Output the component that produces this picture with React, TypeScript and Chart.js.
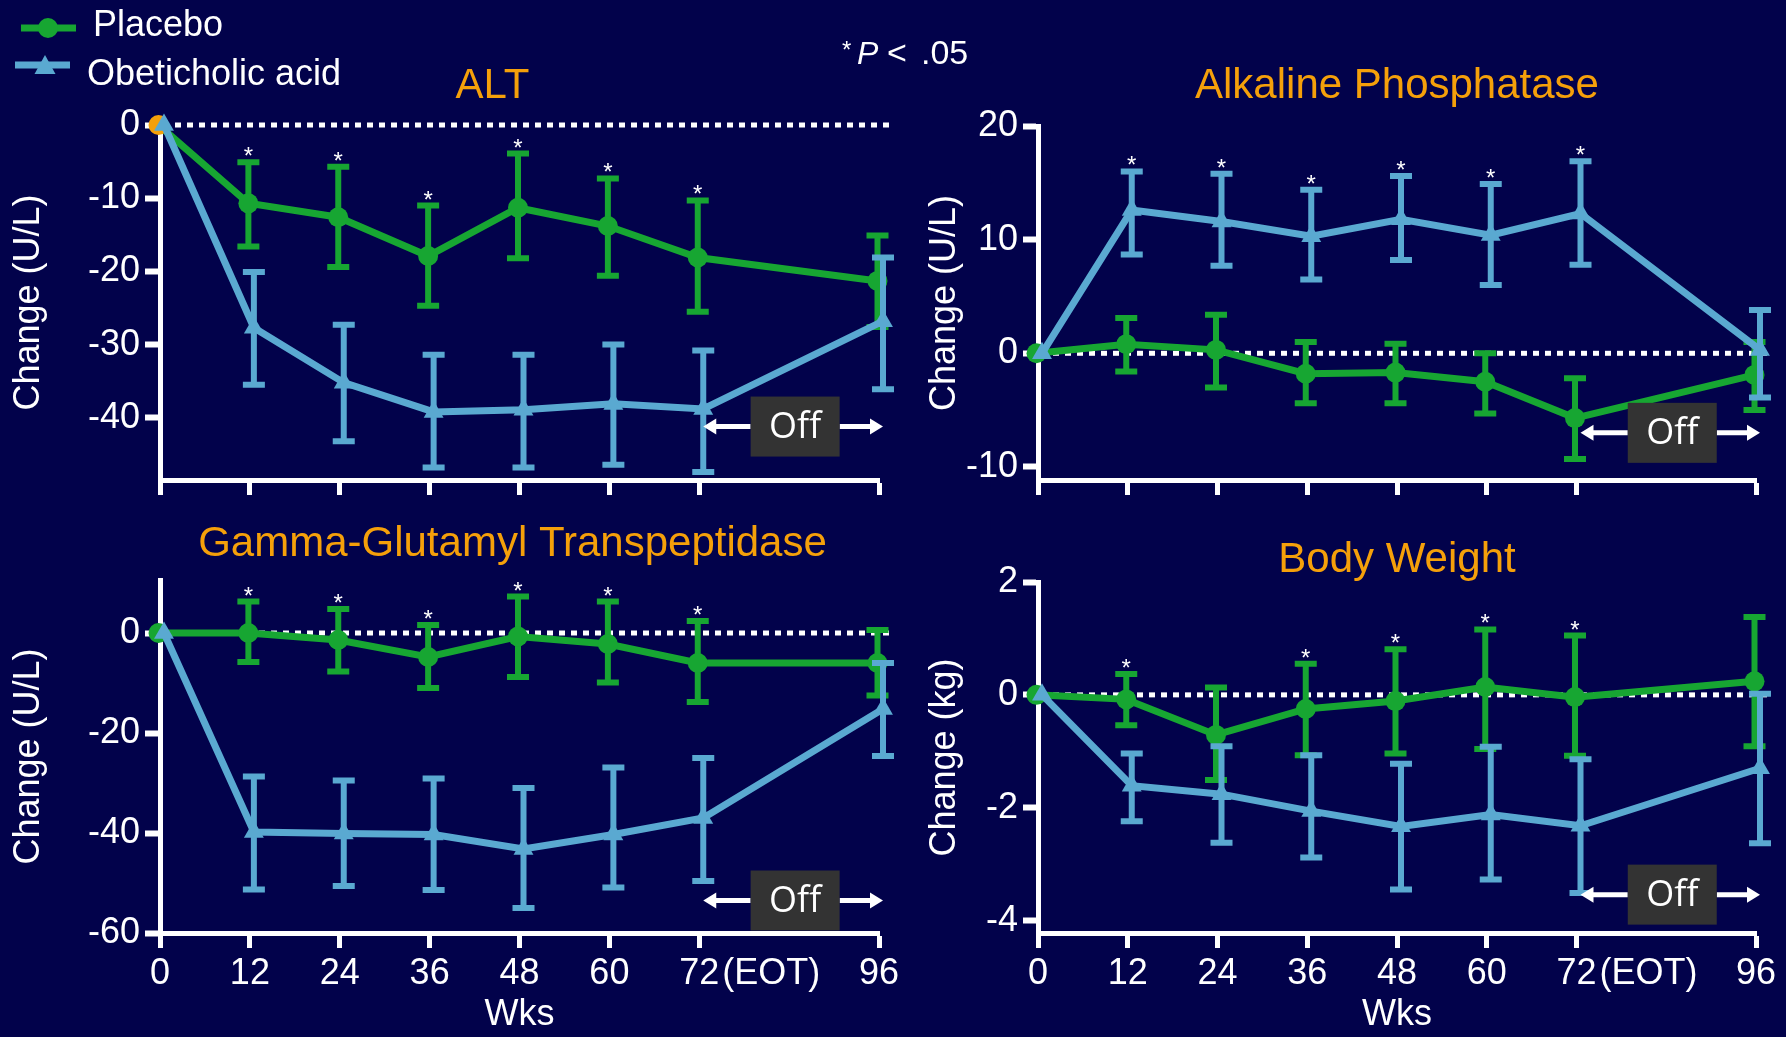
import React, { useEffect, useRef } from 'react';
import { Chart, registerables } from 'chart.js';

Chart.register(...registerables);

// ---------------- DATA ----------------
const weeks = [0, 12, 24, 36, 48, 60, 72, 96];
const xTicks = [0, 12, 24, 36, 48, 60, 72, 96];

// ALT (U/L)
const altPlacebo = [0, -10.7, -12.6, -17.9, -11.3, -13.8, -18.1, -21.3];
const altPlaceboHi = [0, -5.1, -5.7, -11.0, -3.9, -7.3, -10.3, -15.1];
const altPlaceboLo = [0, -16.6, -19.4, -24.7, -18.2, -20.6, -25.5, -27.6];
const altOca = [0, -27.7, -35.2, -39.2, -38.9, -38.1, -38.8, -26.8];
const altOcaHi = [0, -20.1, -27.3, -31.4, -31.4, -30.0, -30.8, -18.1];
const altOcaLo = [0, -35.5, -43.2, -46.8, -46.8, -46.4, -47.4, -36.1];
const altTicks = [0, -10, -20, -30, -40];
const altSig = [12, 24, 36, 48, 60, 72];

// Alkaline phosphatase (U/L)
const alpPlacebo = [0, 0.8, 0.3, -1.8, -1.7, -2.5, -5.7, -1.9];
const alpPlaceboHi = [0, 3.1, 3.4, 1.0, 0.85, 0.0, -2.2, 1.0];
const alpPlaceboLo = [0, -1.6, -3.0, -4.4, -4.4, -5.3, -9.3, -5.0];
const alpOca = [0, 12.6, 11.6, 10.3, 11.8, 10.4, 12.3, 0.3];
const alpOcaHi = [0, 16.0, 15.8, 14.4, 15.6, 14.9, 16.9, 3.8];
const alpOcaLo = [0, 8.7, 7.7, 6.5, 8.2, 6.0, 7.8, -3.9];
const alpTicks = [20, 10, 0, -10];
const alpSig = [12, 24, 36, 48, 60, 72];

// Gamma-glutamyl transpeptidase (U/L)
const ggtPlacebo = [0, 0.0, -1.4, -4.8, -0.7, -2.2, -6.0, -6.0];
const ggtPlaceboHi = [0, 6.3, 4.8, 1.6, 7.3, 6.3, 2.4, 0.6];
const ggtPlaceboLo = [0, -5.8, -7.7, -11.0, -8.8, -9.9, -13.8, -12.5];
const ggtOca = [0, -39.8, -40.1, -40.3, -43.2, -40.3, -37.0, -15.2];
const ggtOcaHi = [0, -28.7, -29.5, -29.1, -31.0, -26.9, -25.0, -6.0];
const ggtOcaLo = [0, -51.3, -50.6, -51.4, -55.0, -50.9, -49.6, -24.6];
const ggtTicks = [0, -20, -40, -60];
const ggtSig = [12, 24, 36, 48, 60, 72];

// Body weight (kg)
const bwPlacebo = [0, -0.08, -0.71, -0.25, -0.11, 0.14, -0.04, 0.24];
const bwPlaceboHi = [0, 0.37, 0.13, 0.55, 0.81, 1.16, 1.05, 1.38];
const bwPlaceboLo = [0, -0.54, -1.51, -1.07, -1.04, -0.96, -1.08, -0.91];
const bwOca = [0, -1.61, -1.76, -2.06, -2.33, -2.12, -2.32, -1.3];
const bwOcaHi = [0, -1.04, -0.91, -1.07, -1.22, -0.92, -1.14, 0.02];
const bwOcaLo = [0, -2.24, -2.62, -2.88, -3.45, -3.27, -3.51, -2.63];
const bwTicks = [2, 0, -2, -4];
const bwSig = [12, 36, 48, 60, 72];

const seriesNames = ['Placebo', 'Obeticholic acid'];

// ---------------- STYLE ----------------
const W = 1786;
const H = 1037;
const BG = '#02024b';
const GREEN = '#17a632';
const BLUE = '#5aa9d1';
const ORANGE = '#f5a00a';
const WHITE = '#ffffff';
const FONT = "'Liberation Sans', Arial, Helvetica, sans-serif";
const TICK_FONT_SIZE = 36;

type Panel = {
  key: string;
  title: string;
  titleDx: number;
  titleBaseline: number;
  yTitle: string;
  yMin: number;
  yMax: number;
  yTicks: number[];
  placebo: number[];
  placeboHi: number[];
  placeboLo: number[];
  oca: number[];
  ocaHi: number[];
  ocaLo: number[];
  sigSeries: number; // 0 placebo, 1 oca
  sig: number[];
  offY: number;
  pad: { left: number; top: number; right: number; bottom: number };
  yWidth: number;
  xHeight: number;
  showX: boolean;
  legend: boolean;
  firstPlaceboColor: string;
};

const panels: Panel[] = [
  {
    key: 'alt', title: 'ALT', titleDx: -27, titleBaseline: 98, yTitle: 'Change (U/L)',
    yMin: -48.5, yMax: 0, yTicks: altTicks,
    placebo: altPlacebo, placeboHi: altPlaceboHi, placeboLo: altPlaceboLo,
    oca: altOca, ocaHi: altOcaHi, ocaLo: altOcaLo,
    sigSeries: 0, sig: altSig, offY: -41.2,
    pad: { left: 0, top: 125, right: 907, bottom: 537 }, yWidth: 160, xHeight: 20,
    showX: false, legend: true, firstPlaceboColor: ORANGE,
  },
  {
    key: 'alp', title: 'Alkaline Phosphatase', titleDx: 0, titleBaseline: 98, yTitle: 'Change (U/L)',
    yMin: -11.15, yMax: 20, yTicks: alpTicks,
    placebo: alpPlacebo, placeboHi: alpPlaceboHi, placeboLo: alpPlaceboLo,
    oca: alpOca, ocaHi: alpOcaHi, ocaLo: alpOcaLo,
    sigSeries: 1, sig: alpSig, offY: -7.0,
    pad: { left: 916, top: 126, right: 30, bottom: 537 }, yWidth: 122, xHeight: 20,
    showX: false, legend: false, firstPlaceboColor: GREEN,
  },
  {
    key: 'ggt', title: 'Gamma-Glutamyl Transpeptidase', titleDx: -7, titleBaseline: 556, yTitle: 'Change (U/L)',
    yMin: -60, yMax: 10.6, yTicks: ggtTicks,
    placebo: ggtPlacebo, placeboHi: ggtPlaceboHi, placeboLo: ggtPlaceboLo,
    oca: ggtOca, ocaHi: ggtOcaHi, ocaLo: ggtOcaLo,
    sigSeries: 0, sig: ggtSig, offY: -53.5,
    pad: { left: 0, top: 580, right: 907, bottom: 0 }, yWidth: 160, xHeight: 104,
    showX: true, legend: false, firstPlaceboColor: GREEN,
  },
  {
    key: 'bw', title: 'Body Weight', titleDx: 0, titleBaseline: 572, yTitle: 'Change (kg)',
    yMin: -4.22, yMax: 2, yTicks: bwTicks,
    placebo: bwPlacebo, placeboHi: bwPlaceboHi, placeboLo: bwPlaceboLo,
    oca: bwOca, ocaHi: bwOcaHi, ocaLo: bwOcaLo,
    sigSeries: 0, sig: bwSig, offY: -3.54,
    pad: { left: 916, top: 582, right: 30, bottom: 0 }, yWidth: 122, xHeight: 104,
    showX: true, legend: false, firstPlaceboColor: GREEN,
  },
];

// ---------------- DRAW HELPERS ----------------
function drawArrowHead(ctx: CanvasRenderingContext2D, x: number, y: number, dir: number) {
  ctx.beginPath();
  ctx.moveTo(x, y);
  ctx.lineTo(x - dir * 13, y - 8);
  ctx.lineTo(x - dir * 13, y + 8);
  ctx.closePath();
  ctx.fill();
}

function makePlugin(p: Panel) {
  return {
    id: 'decor_' + p.key,
    afterDatasetsUpdate(chart: any) {
      chart.data.datasets.forEach((ds: any, i: number) => {
        const meta = chart.getDatasetMeta(i);
        meta.data.forEach((pt: any) => {
          pt.x += ds.xShift || 0;
        });
      });
    },
    beforeDatasetsDraw(chart: any) {
      const { ctx, scales, chartArea } = chart;
      const y0 = scales.y.getPixelForValue(0);
      ctx.save();
      ctx.strokeStyle = WHITE;
      ctx.lineWidth = 5;
      ctx.setLineDash([6, 6]);
      ctx.beginPath();
      ctx.moveTo(scales.x.getPixelForValue(0) + 3, y0);
      ctx.lineTo(chartArea.right + 12, y0);
      ctx.stroke();
      ctx.restore();
    },
    beforeDatasetDraw(chart: any, args: any) {
      const { ctx, scales } = chart;
      const ds = chart.data.datasets[args.index];
      const meta = args.meta;
      ctx.save();
      ctx.strokeStyle = ds.borderColor;
      ctx.lineCap = 'butt';
      meta.data.forEach((pt: any, i: number) => {
        const hi = scales.y.getPixelForValue(ds.errHi[i]);
        const lo = scales.y.getPixelForValue(ds.errLo[i]);
        if (Math.abs(hi - lo) < 1) return;
        ctx.lineWidth = 6;
        ctx.beginPath();
        ctx.moveTo(pt.x, hi);
        ctx.lineTo(pt.x, lo);
        ctx.stroke();
        ctx.beginPath();
        ctx.moveTo(pt.x - 11, hi);
        ctx.lineTo(pt.x + 11, hi);
        ctx.moveTo(pt.x - 11, lo);
        ctx.lineTo(pt.x + 11, lo);
        ctx.stroke();
      });
      ctx.restore();
    },
    afterDatasetsDraw(chart: any) {
      const { ctx, scales } = chart;
      // significance asterisks
      const ds = chart.data.datasets[p.sigSeries];
      const meta = chart.getDatasetMeta(p.sigSeries);
      ctx.save();
      ctx.fillStyle = WHITE;
      ctx.font = `24px ${FONT}`;
      ctx.textAlign = 'center';
      ctx.textBaseline = 'alphabetic';
      p.sig.forEach((w) => {
        const i = weeks.indexOf(w);
        if (i < 0) return;
        const pt = meta.data[i];
        const yHi = scales.y.getPixelForValue(ds.errHi[i]);
        ctx.fillText('*', pt.x, yHi + 2);
      });
      ctx.restore();

      // "Off" annotation
      const y = scales.y.getPixelForValue(p.offY);
      const xl = scales.x.getPixelForValue(72) + 4;
      const xr = scales.x.getPixelForValue(96) + 4;
      const cx = (xl + xr) / 2 + 2;
      const bw = 89;
      const bh = 60;
      ctx.save();
      ctx.strokeStyle = WHITE;
      ctx.fillStyle = WHITE;
      ctx.lineWidth = 5;
      ctx.beginPath();
      ctx.moveTo(xl + 10, y);
      ctx.lineTo(cx - bw / 2, y);
      ctx.moveTo(cx + bw / 2, y);
      ctx.lineTo(xr - 10, y);
      ctx.stroke();
      drawArrowHead(ctx, xl, y, -1);
      drawArrowHead(ctx, xr, y, 1);
      ctx.fillStyle = '#333333';
      ctx.fillRect(cx - bw / 2, y - bh / 2, bw, bh);
      ctx.fillStyle = WHITE;
      ctx.font = `36px 'Open Sans', 'Noto Sans', sans-serif`;
      ctx.textAlign = 'center';
      ctx.textBaseline = 'middle';
      ctx.fillText('Off', cx, y + 1);
      ctx.restore();
    },
    afterDraw(chart: any) {
      const { ctx, scales, chartArea } = chart;
      ctx.save();
      // panel title
      ctx.fillStyle = ORANGE;
      ctx.font = `42px ${FONT}`;
      ctx.textAlign = 'center';
      ctx.textBaseline = 'alphabetic';
      ctx.fillText(p.title, (chartArea.left + chartArea.right) / 2 + p.titleDx, p.titleBaseline);

      // (EOT) suffix after the 72 tick label
      if (p.showX) {
        ctx.fillStyle = WHITE;
        ctx.font = `${TICK_FONT_SIZE}px ${FONT}`;
        const w72 = ctx.measureText('72').width;
        ctx.textAlign = 'left';
        ctx.textBaseline = 'middle';
        ctx.fillText('(EOT)', scales.x.getPixelForValue(72) + w72 / 2 + 3, chartArea.bottom + 15 + 4 + TICK_FONT_SIZE * 0.6);
      }

      if (p.legend) {
        // legend
        ctx.lineWidth = 7;
        ctx.strokeStyle = GREEN;
        ctx.beginPath();
        ctx.moveTo(21, 28);
        ctx.lineTo(76, 28);
        ctx.stroke();
        ctx.fillStyle = GREEN;
        ctx.beginPath();
        ctx.arc(48, 28, 10, 0, Math.PI * 2);
        ctx.fill();
        ctx.strokeStyle = BLUE;
        ctx.beginPath();
        ctx.moveTo(15, 65);
        ctx.lineTo(70, 65);
        ctx.stroke();
        ctx.fillStyle = BLUE;
        ctx.beginPath();
        ctx.moveTo(45, 55);
        ctx.lineTo(55.5, 74);
        ctx.lineTo(34.5, 74);
        ctx.closePath();
        ctx.fill();
        ctx.fillStyle = WHITE;
        ctx.font = `36px ${FONT}`;
        ctx.textAlign = 'left';
        ctx.textBaseline = 'alphabetic';
        ctx.fillText(seriesNames[0], 93, 36);
        ctx.fillText(seriesNames[1], 87, 85);

        // *P < .05
        ctx.font = `24px ${FONT}`;
        ctx.fillText('*', 842, 58);
        ctx.font = `italic 32px ${FONT}`;
        ctx.fillText('P', 857, 64);
        ctx.font = `34px ${FONT}`;
        ctx.fillText('<', 887, 64);
        ctx.fillText('.05', 921, 64);
      }
      ctx.restore();
    },
  };
}

function buildConfig(p: Panel): any {
  const tickFont = { family: FONT, size: TICK_FONT_SIZE };
  const mk = (arr: number[]) => weeks.map((w, i) => ({ x: w, y: arr[i] }));
  return {
    type: 'line',
    data: {
      datasets: [
        {
          label: seriesNames[0],
          data: mk(p.placebo),
          errHi: p.placeboHi,
          errLo: p.placeboLo,
          xShift: -1.5,
          borderColor: GREEN,
          backgroundColor: GREEN,
          pointBackgroundColor: weeks.map((_, i) => (i === 0 ? p.firstPlaceboColor : GREEN)),
          pointBorderWidth: 0,
          pointRadius: 10,
          pointStyle: 'circle',
          borderWidth: 7,
          tension: 0,
          clip: false,
          order: 1,
        },
        {
          label: seriesNames[1],
          data: mk(p.oca),
          errHi: p.ocaHi,
          errLo: p.ocaLo,
          xShift: 4,
          borderColor: BLUE,
          backgroundColor: BLUE,
          pointBackgroundColor: BLUE,
          pointBorderWidth: 0,
          pointRadius: 11.5,
          pointStyle: 'triangle',
          borderWidth: 7,
          tension: 0,
          clip: false,
          order: 0,
        },
      ],
    },
    options: {
      responsive: false,
      animation: false,
      events: [],
      layout: { padding: p.pad },
      plugins: {
        legend: { display: false },
        tooltip: { enabled: false },
        title: { display: false },
      },
      scales: {
        x: {
          type: 'linear',
          min: 0,
          max: 96,
          afterBuildTicks: (s: any) => {
            s.ticks = xTicks.map((v) => ({ value: v }));
          },
          afterFit: (s: any) => {
            s.height = p.xHeight;
          },
          ticks: {
            display: p.showX,
            color: WHITE,
            font: tickFont,
            padding: 4,
            autoSkip: false,
            maxRotation: 0,
            minRotation: 0,
            callback: (v: any) => String(v),
          },
          grid: {
            drawOnChartArea: false,
            drawTicks: true,
            tickLength: 15,
            tickWidth: 5,
            tickColor: WHITE,
          },
          border: { display: true, color: WHITE, width: 5 },
          title: {
            display: p.showX,
            text: 'Wks',
            color: WHITE,
            font: tickFont,
            padding: { top: 0, bottom: 0 },
          },
        },
        y: {
          type: 'linear',
          min: p.yMin,
          max: p.yMax,
          afterBuildTicks: (s: any) => {
            s.ticks = p.yTicks.map((v) => ({ value: v }));
          },
          afterFit: (s: any) => {
            s.width = p.yWidth;
          },
          ticks: {
            color: WHITE,
            font: tickFont,
            padding: 5,
            callback: (v: any) => String(v),
          },
          grid: {
            drawOnChartArea: false,
            drawTicks: true,
            tickLength: 15,
            tickWidth: 6,
            tickColor: WHITE,
          },
          border: { display: true, color: WHITE, width: 5 },
          title: {
            display: true,
            text: p.yTitle,
            color: WHITE,
            font: tickFont,
            padding: { top: 7, bottom: 0 },
          },
        },
      },
    },
    plugins: [makePlugin(p)],
  };
}

function PanelChart({ panel }: { panel: Panel }) {
  const ref = useRef<HTMLCanvasElement>(null);
  useEffect(() => {
    if (!ref.current) return;
    const chart = new Chart(ref.current, buildConfig(panel));
    return () => chart.destroy();
  }, [panel]);
  return (
    <canvas
      ref={ref}
      width={W}
      height={H}
      style={{ position: 'absolute', left: 0, top: 0, width: W, height: H, display: 'block' }}
    />
  );
}

export default function App() {
  useEffect(() => {
    document.body.style.margin = '0';
    document.body.style.overflow = 'hidden';
    document.body.style.background = BG;
  }, []);
  return (
    <div
      style={{
        position: 'absolute',
        left: 0,
        top: 0,
        width: W,
        height: H,
        background: BG,
        overflow: 'hidden',
      }}
    >
      {panels.map((p) => (
        <PanelChart key={p.key} panel={p} />
      ))}
    </div>
  );
}
